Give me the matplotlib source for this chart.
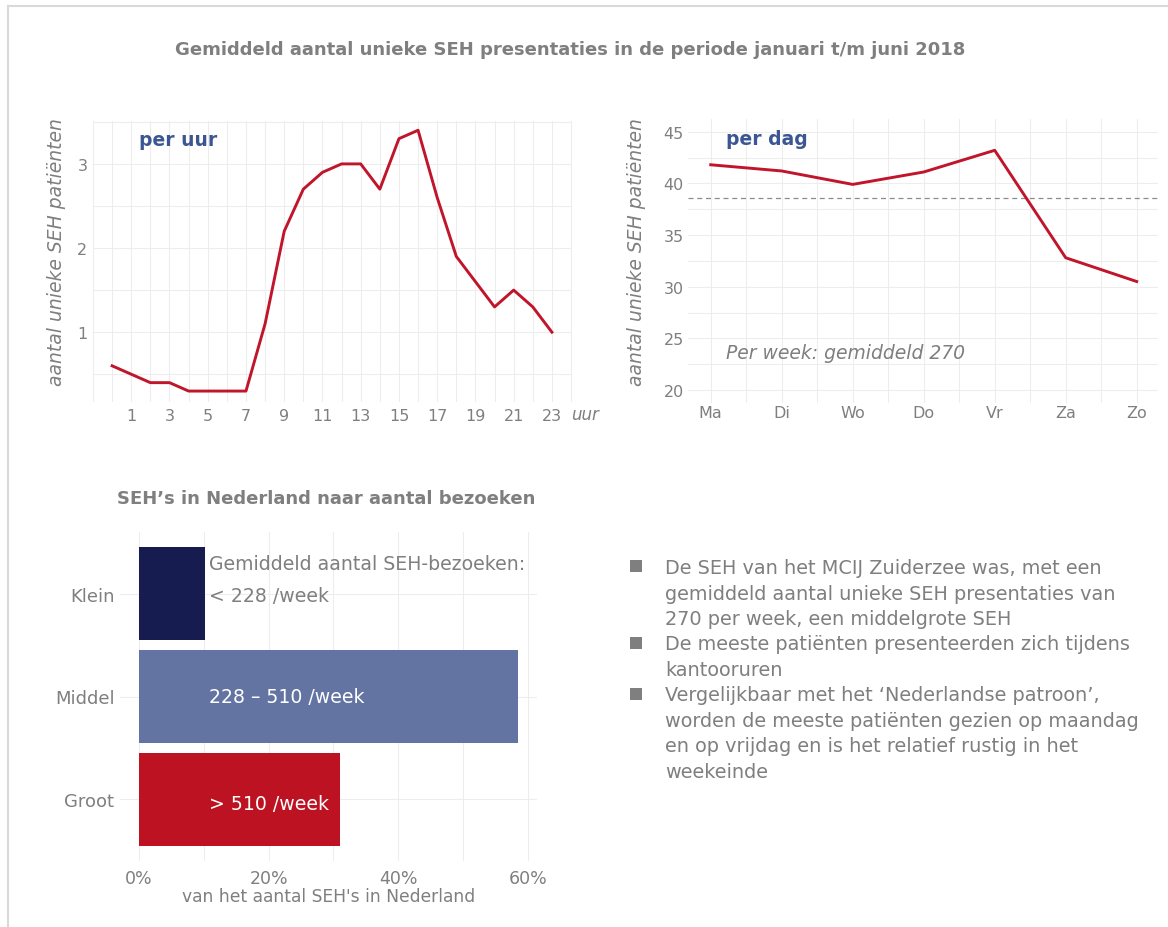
import numpy as np
import matplotlib.pyplot as plt
from matplotlib.patches import Rectangle
from matplotlib.lines import Line2D

plt.rcParams['font.family'] = ['DejaVu Sans']

# data
hours = list(range(24))
per_uur = [0.6, 0.5, 0.4, 0.4, 0.3, 0.3, 0.3, 0.3, 1.1, 2.2, 2.7, 2.9,
           3.0, 3.0, 2.7, 3.3, 3.4, 2.6, 1.9, 1.6, 1.3, 1.5, 1.3, 1.0]
dagen = ['Ma', 'Di', 'Wo', 'Do', 'Vr', 'Za', 'Zo']
per_dag = [41.8, 41.2, 39.9, 41.1, 43.2, 32.8, 30.5]
week_totaal = 270
groottes = ['Groot', 'Middel', 'Klein']
aandeel = [31.0, 58.4, 10.2]
bar_labels = ['> 510 /week', '228 \u2013 510 /week', 'Gemiddeld aantal SEH-bezoeken:\n< 228 /week']
bar_colors = ['#BC1221', '#6374A3', '#171C50']
bullets = [
    'De SEH van het MCIJ Zuiderzee was, met een\ngemiddeld aantal unieke SEH presentaties van\n270 per week, een middelgrote SEH',
    'De meeste pati\u00ebnten presenteerden zich tijdens\nkantooruren',
    'Vergelijkbaar met het \u2018Nederlandse patroon\u2019,\nworden de meeste pati\u00ebnten gezien op maandag\nen op vrijdag en is het relatief rustig in het\nweekeinde',
]

GREY = '#7F7F7F'
RED = '#C0152A'
BLUE = '#3B5693'
GRID = '#EDEDED'

W, H = 1168, 928
fig = plt.figure(figsize=(W / 100, H / 100), dpi=100)


def px_axes(left, top, right, bottom):
    return fig.add_axes([left / W, 1 - bottom / H, (right - left) / W, (bottom - top) / H])


def clean(ax):
    for s in ax.spines.values():
        s.set_visible(False)
    ax.tick_params(length=0, colors=GREY)
    ax.set_axisbelow(True)


# frame
fig.add_artist(Line2D([7.5 / W, 7.5 / W], [0, 1 - 7 / H], color='#D9D9D9', lw=1.5))
fig.add_artist(Line2D([7.5 / W, 1], [1 - 7 / H, 1 - 7 / H], color='#D9D9D9', lw=1.5))

fig.text(570.5 / W, 1 - 50 / H,
         'Gemiddeld aantal unieke SEH presentaties in de periode januari t/m juni 2018',
         ha='center', va='center', fontsize=13, fontweight='bold', color=GREY)

# per uur
ax1 = px_axes(93, 122, 572, 403)
clean(ax1)
for h in range(-1, 25):
    ax1.axvline(h, color=GRID, lw=0.8, zorder=0)
for v in np.arange(0.5, 3.6, 0.5):
    ax1.axhline(v, color=GRID, lw=0.8, zorder=0)
ax1.plot(hours, per_uur, color=RED, lw=2.1)
ax1.set_xlim(-1, 24.05)
ax1.set_ylim(0.17, 3.51)
ax1.set_xticks(range(1, 24, 2))
ax1.set_yticks([1, 2, 3])
ax1.tick_params(labelsize=11.5, pad=4)
ax1.set_ylabel('aantal unieke SEH pati\u00ebnten', fontsize=13.5, style='italic', color=GREY, va='center')
ax1.yaxis.set_label_coords(-0.0752, 0.5375)
ax1.text(0.095, 0.935, 'per uur', transform=ax1.transAxes, fontsize=13.5, fontweight='bold',
         color=BLUE, va='center')
fig.text(585 / W, 1 - 415 / H, 'uur', fontsize=12, style='italic', color=GREY, ha='center', va='center')

# per dag
ax2 = px_axes(688, 119.8, 1158, 403.9)
clean(ax2)
for d in np.arange(0, 6.6, 0.5):
    ax2.axvline(d, color=GRID, lw=0.8, zorder=0)
for v in np.arange(20, 46, 2.5):
    ax2.axhline(v, color=GRID, lw=0.8, zorder=0)
x_dag = np.arange(len(dagen))
ax2.axhline(week_totaal / 7, color='#8C8C8C', lw=0.9, ls=(0, (4, 3)))
ax2.plot(x_dag, per_dag, color=RED, lw=2.1)
ax2.set_xlim(-0.32, 6.3)
ax2.set_ylim(18.75, 46.25)
ax2.set_xticks(x_dag)
ax2.set_xticklabels(dagen)
ax2.set_yticks(range(20, 46, 5))
ax2.tick_params(axis='x', labelsize=11.5, pad=1.5)
ax2.tick_params(axis='y', labelsize=11.5, pad=3)
ax2.set_ylabel('aantal unieke SEH pati\u00ebnten', fontsize=13.5, style='italic', color=GREY, va='center')
ax2.yaxis.set_label_coords(-0.1106, 0.533)
ax2.text(0.08, 0.93, 'per dag', transform=ax2.transAxes, fontsize=13.5, fontweight='bold',
         color=BLUE, va='center')
ax2.text(0.22, 23.6, 'Per week: gemiddeld %d' % week_totaal, fontsize=13.5, style='italic',
         color=GREY, va='center')

# bar chart
ax3 = px_axes(120, 533, 537, 862)
clean(ax3)
for xv in range(0, 61, 10):
    ax3.axvline(xv, color=GRID, lw=0.8, zorder=0)
y_pos = np.arange(1, len(groottes) + 1)
for yv in y_pos:
    ax3.axhline(yv, color=GRID, lw=0.8, zorder=0)
ax3.barh(y_pos, aandeel, height=0.9, color=bar_colors, zorder=2)
ax3.set_xlim(-2.92, 61.4)
ax3.set_ylim(0.4, 3.6)
ax3.set_yticks(y_pos)
ax3.set_yticklabels(groottes)
ax3.set_xticks(range(0, 61, 20))
ax3.set_xticklabels(['%d%%' % v for v in range(0, 61, 20)])
ax3.tick_params(axis='y', labelsize=13, pad=4)
ax3.tick_params(axis='x', labelsize=12.5, pad=5.5)
ax3.set_xlabel("van het aantal SEH's in Nederland", fontsize=12.3, color=GREY, labelpad=0)
txt_y = [0.96, 2.0, 3.135]
txt_c = ['white', 'white', GREY]
dy = 0.31
for yv, lab, c in zip(txt_y, bar_labels, txt_c):
    lines = lab.split('\n')
    for i, ln in enumerate(lines):
        ax3.text(10.8, yv + (len(lines) - 1) / 2 * dy - i * dy, ln, color=c, fontsize=13.6,
                 va='center', ha='left', zorder=3)
fig.text(326.5 / W, 1 - 499 / H, 'SEH\u2019s in Nederland naar aantal bezoeken', ha='center', va='center',
         fontsize=13, fontweight='bold', color=GREY)

# bullets
pitch = 25.5
base = 574
for b in bullets:
    fig.add_artist(Rectangle((630 / W, 1 - (base - 1) / H), 12 / W, 12 / H,
                             transform=fig.transFigure, color=GREY, lw=0))
    for ln in b.split('\n'):
        fig.text(665 / W, 1 - base / H, ln, fontsize=13.9, color=GREY, va='baseline', ha='left')
        base += pitch

fig.savefig('out.png', dpi=100)
